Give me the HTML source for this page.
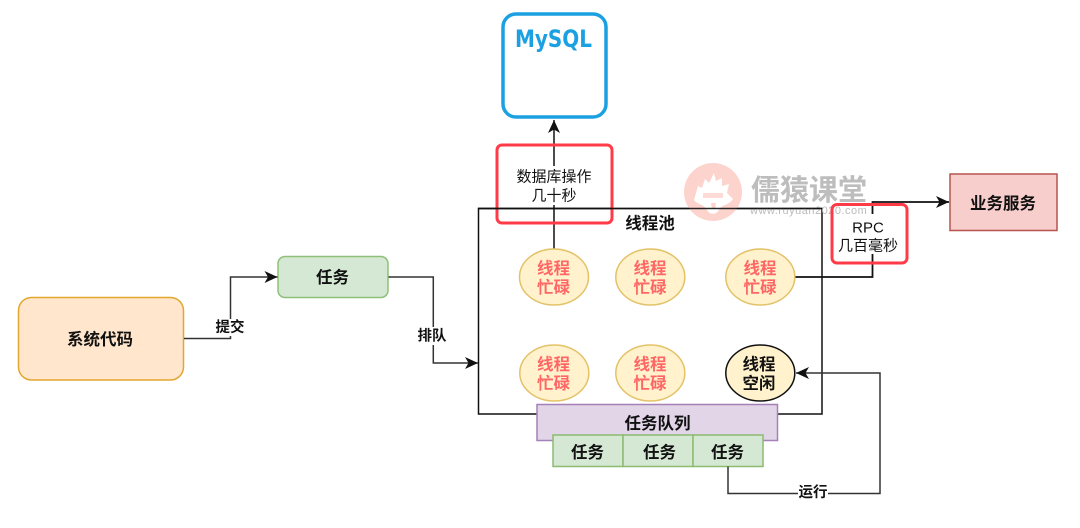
<!DOCTYPE html>
<html><head><meta charset="utf-8">
<style>
html,body{margin:0;padding:0;background:#fff;width:1080px;height:528px;overflow:hidden}
svg{display:block}
text{font-family:"Liberation Sans","Noto Sans CJK SC",sans-serif;text-anchor:middle;dominant-baseline:central;fill:#111}
.b{font-weight:bold;font-size:16.500px}
.r{font-weight:bold;font-size:16.500px;fill:#ff6666}
.n{font-size:15px}
.l{font-weight:bold;font-size:14.500px}
.w{fill:none;stroke:#333;stroke-width:1.500}
.k{fill:none;stroke:#111;stroke-width:1.500}
</style></head><body>
<svg width="1080" height="528" viewBox="0 0 1080 528" xmlns="http://www.w3.org/2000/svg">
<defs>
<marker id="a" markerUnits="userSpaceOnUse" markerWidth="14" markerHeight="14" refX="13" refY="7" orient="auto"><path d="M0,1 L13,7 L0,13 L3.500,7 Z" fill="#111"/></marker>
</defs>

<!-- MySQL -->
<rect x="503" y="14" width="103" height="103" rx="13" fill="#fff" stroke="#1ba1e2" stroke-width="3.500"/>
<text x="553.500" y="39" style="font-family:'DejaVu Sans',sans-serif;font-weight:bold;font-size:24px;fill:#1ba1e2" textLength="77" lengthAdjust="spacingAndGlyphs">MySQL</text>

<!-- pool -->
<rect x="478.500" y="208.500" width="343.500" height="205.500" fill="none" stroke="#111" stroke-width="1.500"/>
<text x="650" y="224" class="b">线程池</text>

<!-- DB connector -->
<path d="M554,250 V120" class="k" marker-end="url(#a)"/>

<!-- Red DB box -->
<rect x="497" y="145" width="115" height="78" rx="5" fill="none" stroke="#ff3b47" stroke-width="3"/>
<rect x="516" y="166" width="76" height="39" fill="#fff"/>
<path d="M478,208.500 H612" class="k"/>
<text x="554" y="177" class="n">数据库操作</text>
<text x="554" y="196" class="n">几十秒</text>

<!-- Watermark -->
<g>
<circle cx="713" cy="192" r="29" fill="#fdd3cd"/>
<path d="M694,200 L698,186 L702,188 L705,179 L709,183 L714,173 L716,181 L722,178 L722,186 L729,184 L727,193 L733,199 C728,206 722,204 719,210 C716,215 710,215 707,210 C704,204 698,205 694,200 Z" fill="#fff"/>
<rect x="703" y="193" width="20" height="5" fill="#fdd3cd" opacity=".8"/>
<path d="M711,203 h5 l-1,6 h-3 Z" fill="#fdd3cd"/>
<text x="809" y="188" style="font-size:29px;font-weight:bold;fill:#bdbdbd;font-family:'Noto Sans CJK SC',sans-serif">儒猿课堂</text>
<text x="809" y="211" style="font-size:11px;fill:#bbbbbb;letter-spacing:1.200px" textLength="118">www.ruyuan2020.com</text>
</g>
<path d="M478,208.500 H822" class="k" stroke-opacity=".9"/>

<!-- RPC connector -->
<path d="M795,277 H872.500 V202 H949" class="k" style="stroke-width:1.800" marker-end="url(#a)"/>
<rect x="837" y="214" width="64" height="40" fill="#fff"/>
<rect x="832" y="204.500" width="75" height="58.500" rx="5" fill="none" stroke="#ff3b47" stroke-width="3"/>
<text x="868" y="228" class="n">RPC</text>
<text x="868" y="246" class="n">几百毫秒</text>

<!-- Service -->
<rect x="950" y="174" width="107" height="56.500" fill="#f8cecc" stroke="#b85450" stroke-width="1.500"/>
<text x="1003" y="204" class="b">业务服务</text>

<!-- Ellipses -->
<g fill="#fff2cc" stroke="#e3c268" stroke-width="1.500">
<ellipse cx="554" cy="277" rx="34.500" ry="28"/>
<ellipse cx="650.300" cy="277" rx="34.500" ry="28"/>
<ellipse cx="760.300" cy="277" rx="34.500" ry="28"/>
<ellipse cx="554.300" cy="373" rx="34.500" ry="28"/>
<ellipse cx="650.300" cy="373" rx="34.500" ry="28"/>
</g>
<ellipse cx="760.300" cy="373" rx="34.500" ry="28" fill="#fff2cc" stroke="#111" stroke-width="1.500"/>
<text x="553.500" y="269" class="r">线程</text><text x="553.500" y="288" class="r">忙碌</text>
<text x="650" y="269" class="r">线程</text><text x="650" y="288" class="r">忙碌</text>
<text x="760" y="269" class="r">线程</text><text x="760" y="288" class="r">忙碌</text>
<text x="553.500" y="365" class="r">线程</text><text x="553.500" y="384" class="r">忙碌</text>
<text x="650" y="365" class="r">线程</text><text x="650" y="384" class="r">忙碌</text>
<text x="759" y="365" class="b">线程</text><text x="759" y="384" class="b">空闲</text>

<!-- Queue -->
<rect x="537" y="404.500" width="240.500" height="36" fill="#e1d5e7" stroke="#a680b8" stroke-width="1.500"/>
<text x="657.500" y="424" class="b">任务队列</text>
<g fill="#d5e8d4" stroke="#8cbb72" stroke-width="1.500">
<rect x="553" y="435" width="70" height="31.500"/>
<rect x="623" y="435" width="70" height="31.500"/>
<rect x="693" y="435" width="70" height="31.500"/>
</g>
<text x="587.500" y="453" class="b">任务</text>
<text x="659.500" y="453" class="b">任务</text>
<text x="727.500" y="453" class="b">任务</text>

<!-- Run connector -->
<path d="M728,466.500 V493.500 H880 V373 H796" class="w" marker-end="url(#a)"/>
<rect x="798" y="484" width="30" height="18" fill="#fff"/>
<text x="813" y="493" class="l">运行</text>

<!-- Left -->
<rect x="18.500" y="297.500" width="165" height="82.500" rx="13" fill="#ffe6cc" stroke="#e3a62f" stroke-width="1.500"/>
<text x="100" y="340" class="b">系统代码</text>
<rect x="278" y="256.500" width="110" height="41" rx="7" fill="#d5e8d4" stroke="#8fc07a" stroke-width="1.500"/>
<text x="332.500" y="278" class="b">任务</text>

<path d="M184,338.500 H230.500 V277 H277.500" class="w" marker-end="url(#a)"/>
<rect x="215" y="319" width="30" height="17" fill="#fff"/>
<text x="230" y="328" class="l">提交</text>
<path d="M388.500,277 H433.300 V363 H478" class="w" marker-end="url(#a)"/>
<rect x="417" y="327" width="30" height="18" fill="#fff"/>
<text x="432" y="336.500" class="l">排队</text>
</svg>
</body></html>
